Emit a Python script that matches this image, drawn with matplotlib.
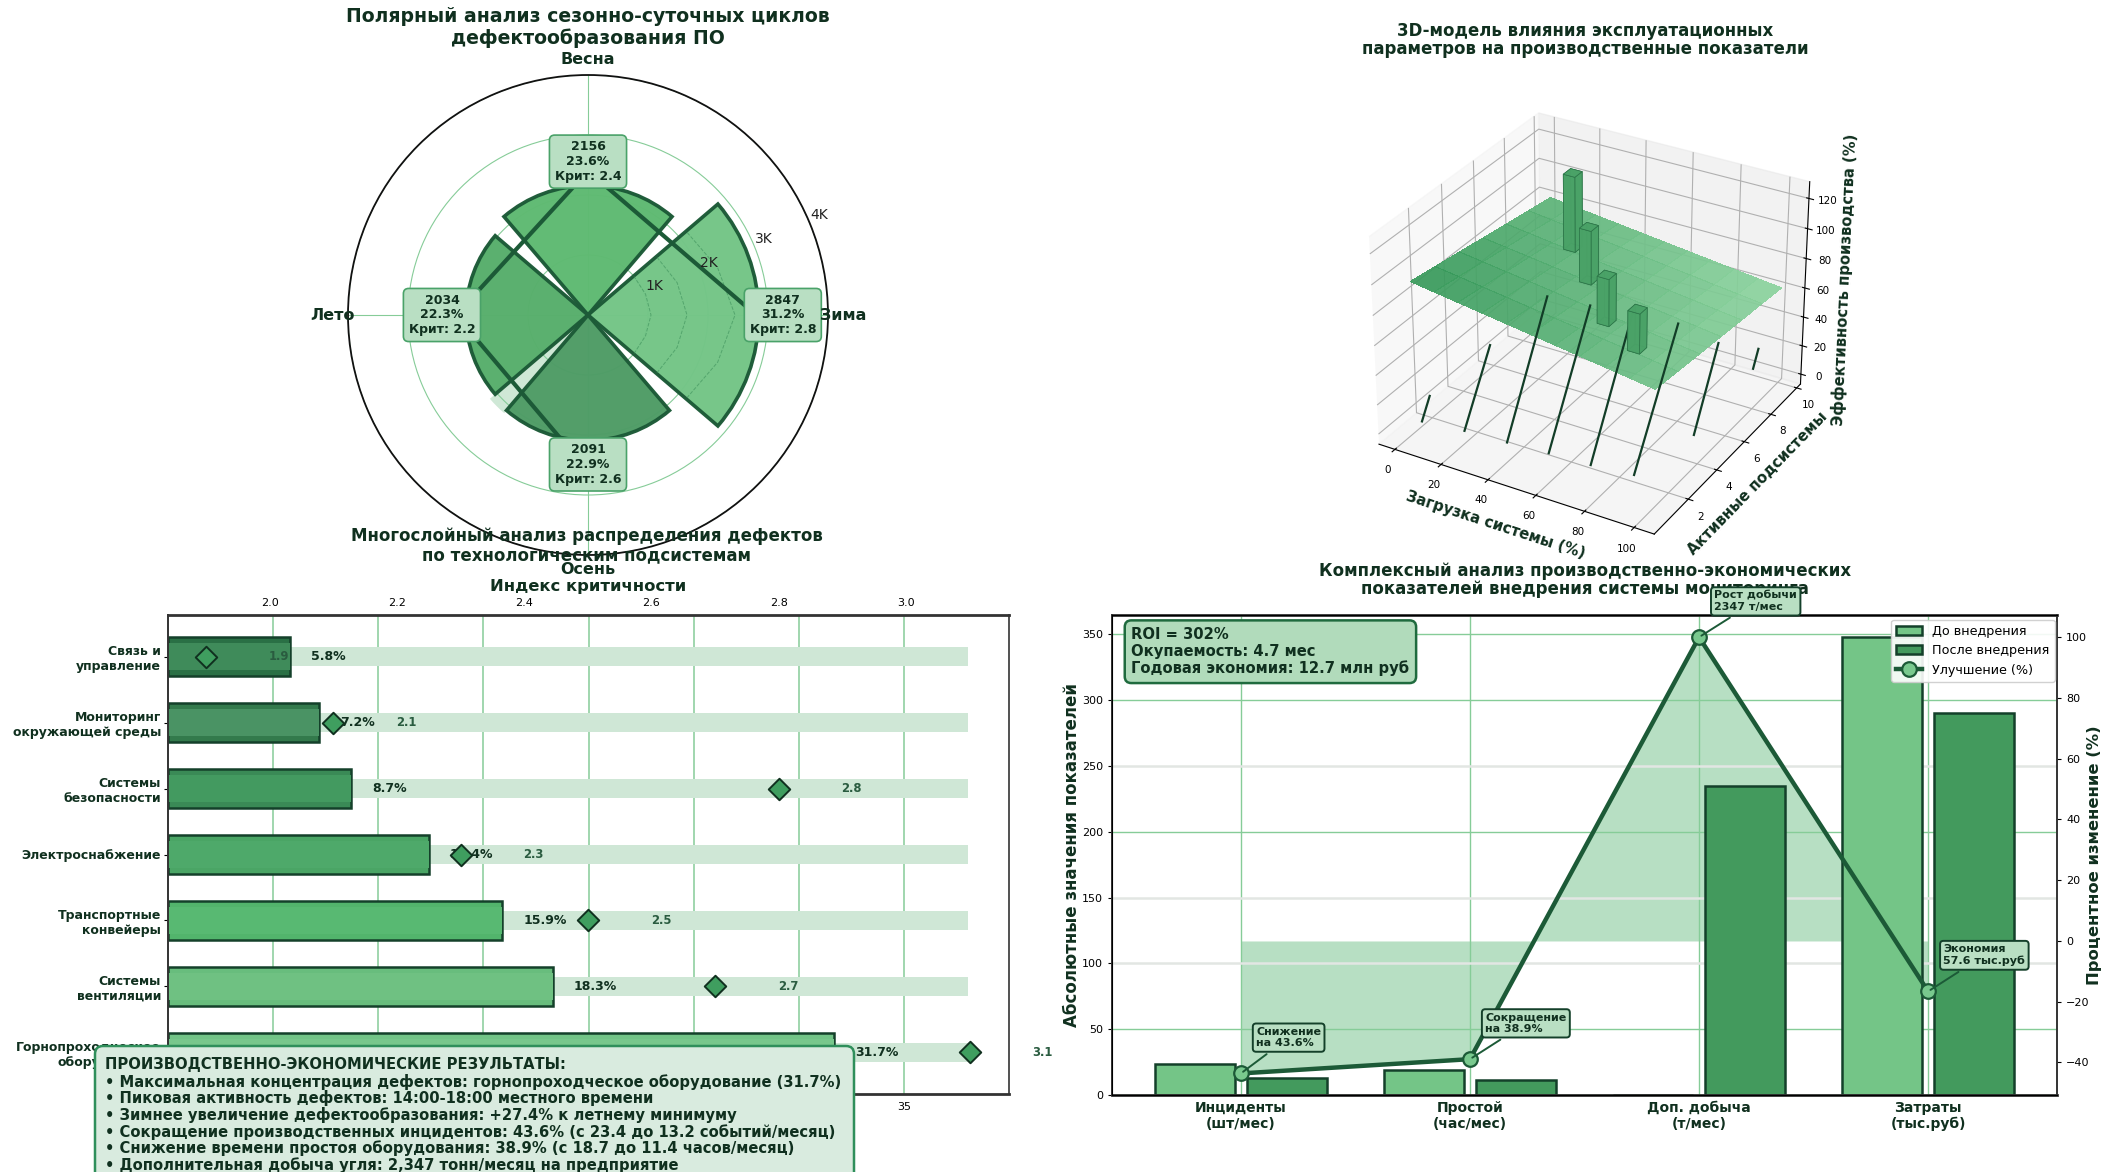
import numpy as np
import matplotlib
matplotlib.use("Agg")
import matplotlib.pyplot as plt
from matplotlib.colors import LinearSegmentedColormap
from matplotlib.patches import FancyBboxPatch
from matplotlib.transforms import Affine2D

W, H = 2108, 1172
DARK = "#1c5a37"
INK = "#10301f"
GRID = "#86cc98"

# polar
seasons = ["Зима", "Весна", "Лето", "Осень"]
season_angles = [0, 90, 180, 270]
season_counts = [2847, 2156, 2034, 2091]
season_share = [31.2, 23.6, 22.3, 22.9]
season_crit = [2.8, 2.4, 2.2, 2.6]
season_colors = ["#74c587", "#5fba72", "#58af6c", "#4f9c66"]
contour_theta = [-40, -20, 0, 20, 40]
contour_r = [[1000, 1020, 1050, 1020, 1000], [1500, 1580, 1650, 1580, 1500], [2150, 2300, 2450, 2300, 2150]]

# bars
subsystems = ["Связь и\nуправление", "Мониторинг\nокружающей среды", "Системы\nбезопасности",
              "Электроснабжение", "Транспортные\nконвейеры", "Системы\nвентиляции",
              "Горнопроходческое\nоборудование"]
sub_share = [5.8, 7.2, 8.7, 12.4, 15.9, 18.3, 31.7]
sub_crit = [1.9, 2.1, 2.8, 2.3, 2.5, 2.7, 3.1]
sub_outer = ["#2a7045", "#337a4c", "#3a8a56", "#4aa565", "#52b46c", "#68bd7d", "#72c487"]
sub_inner = ["#3f8b5a", "#4a9364", "#439a60", "#4ea96a", "#58b972", "#6fc182", "#78c78c"]

# economics
econ_cats = ["Инциденты\n(шт/мес)", "Простой\n(час/мес)", "Доп. добыча\n(т/мес)", "Затраты\n(тыс.руб)"]
econ_before = [23.4, 18.7, 0, 348]
econ_after = [13.2, 11.4, 234.7, 290.4]
econ_change = [-43.6, -38.9, 100, -16.6]
econ_notes = ["Снижение\nна 43.6%", "Сокращение\nна 38.9%", "Рост добычи\n2347 т/мес", "Экономия\n57.6 тыс.руб"]

# 3D
surf_x = [0, 10, 20, 30, 40, 50, 60, 70, 80, 90, 100]
surf_y = [1, 2.5, 4, 5.5, 7, 8.5, 10]
surf_z = [
    [94.4, 92.1, 89.8, 87.5, 85.2, 82.9, 80.6, 78.3, 76, 73.7, 71.4],
    [91.7, 89.5, 87.2, 85, 82.7, 80.5, 78.3, 76, 73.8, 71.5, 69.3],
    [89, 86.8, 84.6, 82.5, 80.3, 78.1, 75.9, 73.7, 71.6, 69.4, 67.2],
    [86.2, 84.1, 82, 79.9, 77.8, 75.7, 73.6, 71.5, 69.4, 67.3, 65.2],
    [83.5, 81.5, 79.4, 77.4, 75.3, 73.3, 71.3, 69.2, 67.2, 65.1, 63.1],
    [80.7, 78.7, 76.8, 74.8, 72.9, 70.9, 68.9, 67, 65, 63.1, 61.1],
    [78, 76.1, 74.2, 72.3, 70.4, 68.5, 66.6, 64.7, 62.8, 60.9, 59],
]
col_x = [18, 30, 44.5, 63]
col_y = [8.1, 7.3, 6.2, 5.3]
col_z0 = [65, 54.5, 42, 40]
col_h = [51, 36.5, 32, 27]
stem_x = [2, 19, 36.6, 53.4, 70.4, 87, 93, 90.5]
stem_y0 = [1.1, 1.32, 1.42, 1.55, 1.63, 1.83, 4.96, 9.79]
stem_y1 = [1.62, 3.04, 4.12, 4.31, 4.47, 4.73, 6.6, 10.16]
stem_z1 = [12.8, 43, 74.6, 74.6, 78.7, 74.5, 47.8, 10.8]

summary_lines = [
    "ПРОИЗВОДСТВЕННО-ЭКОНОМИЧЕСКИЕ РЕЗУЛЬТАТЫ:",
    "• Максимальная концентрация дефектов: горнопроходческое оборудование (31.7%)",
    "• Пиковая активность дефектов: 14:00-18:00 местного времени",
    "• Зимнее увеличение дефектообразования: +27.4% к летнему минимуму",
    "• Сокращение производственных инцидентов: 43.6% (с 23.4 до 13.2 событий/месяц)",
    "• Снижение времени простоя оборудования: 38.9% (с 18.7 до 11.4 часов/месяц)",
    "• Дополнительная добыча угля: 2,347 тонн/месяц на предприятие",
]

plt.rcParams["font.family"] = "DejaVu Sans"
fig = plt.figure(figsize=(W / 100, H / 100), dpi=100, facecolor="white")


def rect(l, t, r, b):
    return [l / W, 1 - b / H, (r - l) / W, (b - t) / H]


def ftext(x, y, s, **kw):
    kw.setdefault("ha", "center")
    kw.setdefault("va", "center")
    return fig.text(x / W, 1 - y / H, s, **kw)


# ---------- polar
ax = fig.add_axes(rect(348, 75, 828, 555), projection="polar")
ax.set_ylim(0, 4000)
ax.set_xticks(np.radians(season_angles))
ax.set_xticklabels([])
ax.set_yticks([1000, 2000, 3000, 4000])
ax.set_yticklabels([])
ax.grid(True, color=GRID, lw=0.8)
ax.spines["polar"].set_color("#111111")
ax.spines["polar"].set_linewidth(1.3)
th = np.radians(season_angles)
ax.bar(np.radians(225), 2150, width=np.radians(9), color="#cfe8d6", zorder=1.5)
ax.bar(th, season_counts, width=np.radians(81), color=season_colors, edgecolor=DARK, linewidth=2.6, zorder=2, alpha=0.98)
for rs in contour_r:
    ax.plot(np.radians(contour_theta), rs, color="#3c8f5a", lw=0.7, ls="--", alpha=0.6, zorder=2.5)
ax.plot(th, [c * 1000 for c in season_crit], color=DARK, lw=3, zorder=3)
for r, lab in zip([1200, 2200, 3200, 4200], ["1K", "2K", "3K", "4K"]):
    ax.text(np.radians(23.4), r, lab, ha="center", va="center", fontsize=10, color="#222222", zorder=5, clip_on=False)
for a, c, s, k in zip(th, season_counts, season_share, season_crit):
    ax.text(a, c + 400, f"{c}\n{s}%\nКрит: {k}", ha="center", va="center", fontsize=9, fontweight="bold",
            color=INK, zorder=6, linespacing=1.18,
            bbox=dict(boxstyle="round,pad=0.42", fc="#b9dfc3", ec="#4aa269", lw=1.2))
for a, s in zip(th, seasons):
    ax.text(a, 4250, s, ha="center", va="center", fontsize=11.5, fontweight="bold", color=INK, clip_on=False, zorder=7)

ftext(588, 16, "Полярный анализ сезонно-суточных циклов", fontsize=13.6, fontweight="bold", color=INK)
ftext(588, 38, "дефектообразования ПО", fontsize=13.6, fontweight="bold", color=INK)

# ---------- bars
ax = fig.add_axes(rect(168, 615, 1009, 1094))
y = np.arange(len(subsystems))
ax.barh(y, [max(sub_share) * 1.2] * len(y), height=0.3, color="#cfe7d6", zorder=1.5)
ax.barh(y, sub_share, height=0.6, color=sub_outer, edgecolor="#14402a", linewidth=1.8, zorder=2)
ax.barh(y, sub_share, height=0.4, color=sub_inner, zorder=2.1)
for i, v in enumerate(sub_share):
    ax.text(v + 1, i, f"{v}%", va="center", ha="left", fontsize=9, fontweight="bold", color=INK, zorder=3)
ax.set_xlim(0, 40)
ax.set_ylim(6.63, -0.63)
ax.set_yticks(y)
ax.set_yticklabels(subsystems, fontsize=9, fontweight="bold", color=INK)
ax.tick_params(axis="y", pad=2, length=3)
ax.set_xticks(range(5, 40, 5))
ax.tick_params(axis="x", labelsize=8, length=0, pad=6)
ax.grid(True, axis="x", color=GRID, lw=1.1)
ax.set_axisbelow(True)
for s, lw in zip(["top", "bottom", "left", "right"], [2, 2, 1.4, 1.2]):
    ax.spines[s].set_linewidth(lw)
    ax.spines[s].set_color("#333333")
top = ax.twiny()
top.set_xlim(1.84, 3.162)
top.scatter(sub_crit, y, marker="D", s=120, color="#3f9e5f", edgecolor="#10301f", linewidth=1.4, zorder=5)
for k, i in zip(sub_crit, y):
    top.text(k + 0.115, i, f"{k}", va="center", ha="center", fontsize=8.4, fontweight="bold", color="#2a5c40",
             zorder=4, clip_on=False)
top.set_xticks([2.0, 2.2, 2.4, 2.6, 2.8, 3.0])
top.tick_params(axis="x", labelsize=8, length=0, pad=5)
for s in top.spines.values():
    s.set_visible(False)
ftext(588, 586, "Индекс критичности", fontsize=11.8, fontweight="bold", color=INK)
ftext(587, 536, "Многослойный анализ распределения дефектов", fontsize=12, fontweight="bold", color=INK, zorder=8)
ftext(587, 555, "по технологическим подсистемам", fontsize=12, fontweight="bold", color=INK, zorder=8)

# ---------- 3D
ax = fig.add_axes(rect(1342, 75, 1832, 565), projection="3d")
ax.patch.set_alpha(0)
ax.computed_zorder = False
ax.set_xlim(-7, 108)
ax.set_ylim(-0.3, 10.3)
ax.set_zlim(-7, 131)
sx, sy = np.meshgrid(surf_x, surf_y)
cmap = LinearSegmentedColormap.from_list("g", ["#8ad29d", "#389a5b"])
ax.plot_surface(sx, sy, np.array(surf_z), cmap=cmap, alpha=0.92, linewidth=0, antialiased=False, shade=False, zorder=2)
for xv, y0, y1, z1 in zip(stem_x, stem_y0, stem_y1, stem_z1):
    ax.plot([xv, xv], [y0, y1], [0, z1], color="#123d27", lw=1.6, zorder=3)
ax.bar3d(col_x, col_y, col_z0, 5, 0.5, col_h, color="#4aa267", edgecolor="#2c7548", linewidth=0.5, alpha=0.95, zorder=4, shade=False)
ax.set_xticks(range(0, 101, 20))
ax.set_yticks(range(2, 11, 2))
ax.set_zticks(range(0, 121, 20))
ax.tick_params(labelsize=7.5, pad=0)
ax.set_xlabel("Загрузка системы (%)", fontsize=10.6, fontweight="bold", color=INK, labelpad=-2)
ax.set_ylabel("Активные подсистемы", fontsize=10.6, fontweight="bold", color=INK, labelpad=-3)
ax.set_zlabel("Эффективность производства (%)", fontsize=10.6, fontweight="bold", color=INK, labelpad=-3.5)
ftext(1585, 31, "3D-модель влияния эксплуатационных", fontsize=12, fontweight="bold", color=INK)
ftext(1585, 49, "параметров на производственные показатели", fontsize=12, fontweight="bold", color=INK)

# ---------- economics
ax3 = fig.add_axes(rect(1112, 615, 2057, 1095))
ax = fig.add_axes(rect(1112, 615, 2057, 1095))
ax.patch.set_visible(False)
x = np.arange(4)
ax3.fill_between(x, econ_change, 0, color="#4caf6a", alpha=0.4, lw=0)
ax3.set_xlim(-0.5625, 3.5625)
ax3.set_ylim(-50.7, 107.3)
ax3.set_xticks([])
ax3.set_yticks([])
for s in ax3.spines.values():
    s.set_visible(False)
bw = 0.35
b1 = ax.bar(x - 0.2, econ_before, bw, color="#74c587", edgecolor="#14402a", linewidth=1.8, label="До внедрения", zorder=2)
b2 = ax.bar(x + 0.2, econ_after, bw, color="#439a5d", edgecolor="#14402a", linewidth=1.8, label="После внедрения", zorder=2)
ax.set_xlim(-0.5625, 3.5625)
ax.set_ylim(0, 364.7)
ax.set_xticks(x)
ax.set_xticklabels(econ_cats, fontsize=10, fontweight="bold", color=INK)
ax.tick_params(axis="x", length=0, pad=4)
ax.tick_params(axis="y", labelsize=8, length=3)
ax.set_yticks(range(0, 351, 50))
ax.grid(True, color=GRID, lw=1.0, zorder=1)
ax.set_axisbelow(True)
for v, line in zip(range(0, 351, 50), ax.get_ygridlines()):
    if v in (100, 150, 250):
        line.set_color("#e2e6e3")
        line.set_linewidth(1.8)
ax.set_ylabel("Абсолютные значения показателей", fontsize=12, fontweight="bold", color=INK, va="center")
ax.yaxis.set_label_coords(-0.0427, 0.5)
for s, lw in zip(["top", "bottom", "left"], [2, 2, 1.4]):
    ax.spines[s].set_linewidth(lw)
    ax.spines[s].set_color("#333333")
ax.spines["right"].set_visible(False)

ax2 = ax.twinx()
ax2.set_ylim(-50.7, 107.3)
ln, = ax2.plot(x, econ_change, color=DARK, lw=3.2, marker="o", ms=10.5, mfc="#79c98e", mec=DARK, mew=1.6,
               label="Улучшение (%)", zorder=4)
ax2.set_yticks(range(-40, 101, 20))
ax2.tick_params(axis="y", labelsize=8, length=3)
ax2.set_ylabel("Процентное изменение (%)", fontsize=11.8, fontweight="bold", color=INK, va="center")
ax2.yaxis.set_label_coords(1.0397, 0.5)
ax2.spines["right"].set_linewidth(1.4)
ax2.spines["right"].set_color("#333333")
for xi, v, note in zip(x, econ_change, econ_notes):
    ax2.annotate(note, (xi, v), xytext=(11, 18), textcoords="offset points", fontsize=8, fontweight="bold",
                 color=INK, ha="left", va="bottom", annotation_clip=False, zorder=6,
                 bbox=dict(boxstyle="round,pad=0.3", fc="#b9dfc3", ec="#14402a", lw=1.4),
                 arrowprops=dict(arrowstyle="-", color=DARK, lw=1.4))
leg = ax2.legend([b1, b2, ln], ["До внедрения", "После внедрения", "Улучшение (%)"], loc="upper right",
                 fontsize=9.2, framealpha=0.9, bbox_to_anchor=(0.9975, 0.99), borderaxespad=0)
ax2.text(0.0205, 0.975, "ROI = 302%\nОкупаемость: 4.7 мес\nГодовая экономия: 12.7 млн руб", transform=ax2.transAxes,
         ha="left", va="top", fontsize=10.6, fontweight="bold", color=INK, linespacing=1.15, zorder=7,
         bbox=dict(boxstyle="round,pad=0.45", fc="#b1dbbb", ec="#1f6b3e", lw=1.8))
ftext(1585, 571, "Комплексный анализ производственно-экономических", fontsize=12, fontweight="bold", color=INK, zorder=-1)
ftext(1585, 589, "показателей внедрения системы мониторинга", fontsize=12, fontweight="bold", color=INK, zorder=-1)

# ---------- summary
to_px = Affine2D().scale(1, -1).translate(0, H)
box = FancyBboxPatch((100, 1051), 749, 200, boxstyle="round,pad=5,rounding_size=8", fc="#d9ebdf", ec="#2f8f5b",
                     lw=1.8, transform=to_px, zorder=10)
fig.add_artist(box)
for i, s in enumerate(summary_lines):
    ftext(105, 1065 + i * 16.7, s, ha="left", fontsize=10.6, fontweight="bold", color=INK, zorder=11)

fig.savefig("out.png", dpi=100)
